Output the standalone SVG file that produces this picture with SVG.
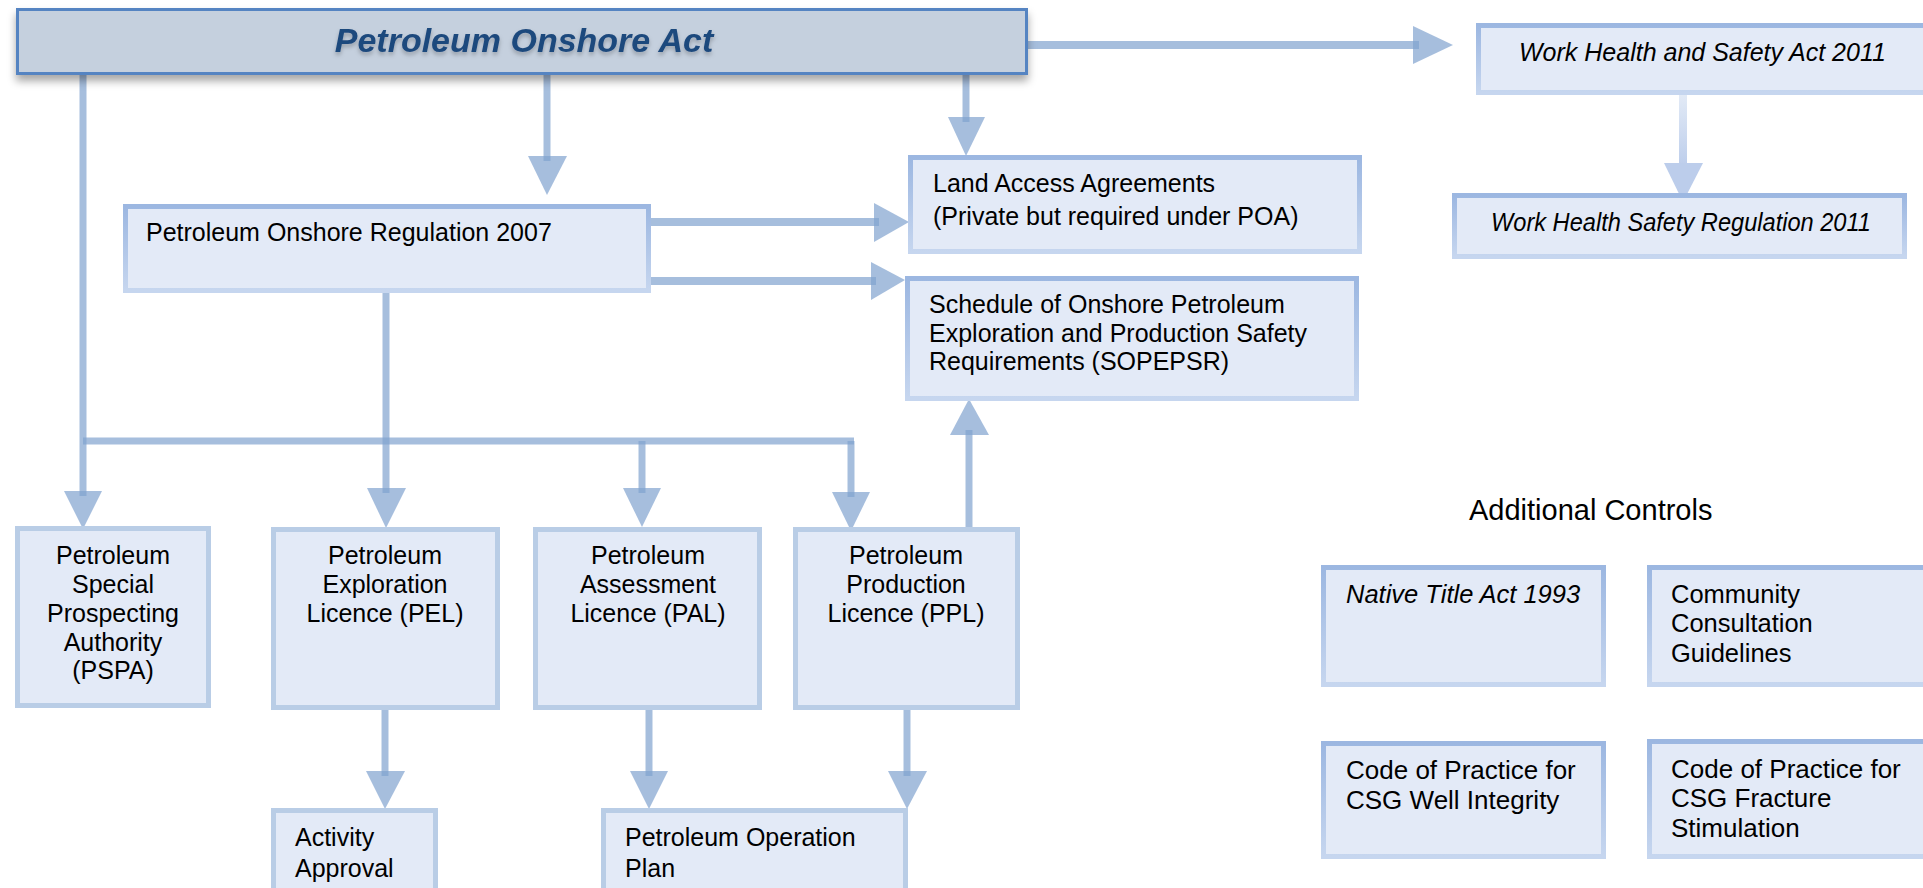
<svg xmlns="http://www.w3.org/2000/svg" width="1923" height="888" viewBox="0 0 1923 888">
<defs>
<linearGradient id="bgrad" x1="0" y1="0" x2="0" y2="1">
<stop offset="0" stop-color="#9cb7e1"/>
<stop offset="1" stop-color="#c6d6ef"/>
</linearGradient>
<linearGradient id="whsline" x1="0" y1="0" x2="0" y2="1">
<stop offset="0" stop-color="#e2eaf6"/>
<stop offset="1" stop-color="#bccdeb"/>
</linearGradient>
<filter id="shadow" x="-5%" y="-20%" width="110%" height="160%">
<feDropShadow dx="0" dy="6" stdDeviation="4" flood-color="#000" flood-opacity="0.35"/>
</filter>
<filter id="tshadow" x="-5%" y="-30%" width="110%" height="180%">
<feDropShadow dx="0" dy="3" stdDeviation="2" flood-color="#000" flood-opacity="0.25"/>
</filter>
</defs>
<style>
text{font-family:"Liberation Sans",Arial,Helvetica,sans-serif;fill:#000;font-size:25px}
.it{font-style:italic}
.c{text-anchor:middle}
.box{fill:#e3eaf7;stroke:url(#bgrad);stroke-width:5}
.lic{fill:#e3eaf7;stroke:#b9cde6;stroke-width:5}
.ln{stroke:#80a2ce;stroke-opacity:0.7;stroke-width:7;fill:none}
.lnh{stroke:#80a2ce;stroke-opacity:0.7;stroke-width:8;fill:none}
.ah{fill:#80a2ce;fill-opacity:0.7}
</style>
<rect width="1923" height="888" fill="#fff"/>

<g id="connectors">
<line class="lnh" x1="1028" y1="45" x2="1419" y2="45"/>
<polygon class="ah" points="1413,26 1453,45 1413,64"/>
<line class="ln" x1="547" y1="75" x2="547" y2="161"/>
<polygon class="ah" points="528,156 567,156 547,195"/>
<line class="ln" x1="966" y1="75" x2="966" y2="122"/>
<polygon class="ah" points="948,117 985,117 966,156"/>
<line class="ln" x1="83" y1="75" x2="83" y2="496"/>
<polygon class="ah" points="64,491 102,491 83,529"/>
<line class="lnh" x1="651" y1="222" x2="879" y2="222"/>
<polygon class="ah" points="874,203 909,222 874,242"/>
<line class="lnh" x1="647" y1="281" x2="876" y2="281"/>
<polygon class="ah" points="871,262 905,280 871,300"/>
<line class="ln" x1="386" y1="293" x2="386" y2="493"/>
<polygon class="ah" points="367,488 406,488 386,528"/>
<line class="ln" x1="83" y1="441" x2="854" y2="441"/>
<line class="ln" x1="642" y1="441" x2="642" y2="493"/>
<polygon class="ah" points="623,488 661,488 642,527"/>
<line class="ln" x1="851" y1="441" x2="851" y2="497"/>
<polygon class="ah" points="832,492 870,492 851,531"/>
<line class="ln" x1="969" y1="530" x2="969" y2="430"/>
<polygon class="ah" points="950,435 989,435 969,399"/>
<line class="ln" x1="385" y1="710" x2="385" y2="776"/>
<polygon class="ah" points="366,771 405,771 385,809"/>
<line class="ln" x1="649" y1="710" x2="649" y2="776"/>
<polygon class="ah" points="630,771 668,771 649,809"/>
<line class="ln" x1="907" y1="710" x2="907" y2="776"/>
<polygon class="ah" points="888,771 927,771 907,809"/>
<rect x="1679" y="95" width="8" height="72" fill="url(#whsline)"/>
<polygon points="1664,163 1703,163 1683,202" fill="#bccdeb"/>
</g>

<g id="act">
<rect x="17.5" y="9.5" width="1009" height="64" fill="#c5d0de" stroke="#5584c2" stroke-width="3" filter="url(#shadow)"/>
<text x="524" y="52" class="c" style="font-size:34px;font-weight:bold;font-style:italic;fill:#1f497d" filter="url(#tshadow)">Petroleum Onshore Act</text>
</g>

<g id="regulation">
<rect class="box" x="125.5" y="206.5" width="523" height="84"/>
<text x="146" y="241">Petroleum Onshore Regulation 2007</text>
</g>

<g id="land-access">
<rect class="box" x="910.5" y="157.5" width="449" height="94"/>
<text x="933" y="192">Land Access Agreements</text>
<text x="933" y="225">(Private but required under POA)</text>
</g>

<g id="sopepsr">
<rect class="box" x="907.5" y="278.5" width="449" height="120"/>
<text x="929" y="313">Schedule of Onshore Petroleum</text>
<text x="929" y="342">Exploration and Production Safety</text>
<text x="929" y="370">Requirements (SOPEPSR)</text>
</g>

<g id="whs-act">
<rect class="box" x="1478.5" y="25.5" width="460" height="67"/>
<text x="1519" y="61" class="it">Work Health and Safety Act 2011</text>
</g>

<g id="whs-reg">
<rect class="box" x="1454.5" y="195.5" width="450" height="61"/>
<text x="1491" y="231" class="it" textLength="380" lengthAdjust="spacingAndGlyphs">Work Health Safety Regulation 2011</text>
</g>

<g id="pspa">
<rect class="lic" x="17.5" y="528.5" width="191" height="177"/>
<text x="113" y="564" class="c">Petroleum</text>
<text x="113" y="593" class="c">Special</text>
<text x="113" y="622" class="c">Prospecting</text>
<text x="113" y="651" class="c">Authority</text>
<text x="113" y="679" class="c">(PSPA)</text>
</g>

<g id="pel">
<rect class="lic" x="273.5" y="529.5" width="224" height="178"/>
<text x="385" y="564" class="c">Petroleum</text>
<text x="385" y="593" class="c">Exploration</text>
<text x="385" y="622" class="c">Licence (PEL)</text>
</g>

<g id="pal">
<rect class="lic" x="535.5" y="529.5" width="224" height="178"/>
<text x="648" y="564" class="c">Petroleum</text>
<text x="648" y="593" class="c">Assessment</text>
<text x="648" y="622" class="c">Licence (PAL)</text>
</g>

<g id="ppl">
<rect class="lic" x="795.5" y="529.5" width="222" height="178"/>
<text x="906" y="564" class="c">Petroleum</text>
<text x="906" y="593" class="c">Production</text>
<text x="906" y="622" class="c">Licence (PPL)</text>
</g>

<g id="activity-approval">
<rect class="lic" x="273.5" y="810.5" width="162" height="100"/>
<text x="295" y="846">Activity</text>
<text x="295" y="877">Approval</text>
</g>

<g id="operation-plan">
<rect class="lic" x="603.5" y="810.5" width="302" height="100"/>
<text x="625" y="846">Petroleum Operation</text>
<text x="625" y="877">Plan</text>
</g>

<g id="additional-controls">
<text x="1469" y="520" style="font-size:29px">Additional Controls</text>
</g>

<g id="native-title">
<rect class="box" x="1323.5" y="567.5" width="280" height="117"/>
<text x="1346" y="603" class="it" style="font-size:25.5px">Native Title Act 1993</text>
</g>

<g id="community">
<rect class="box" x="1649.5" y="567.5" width="290" height="117"/>
<text x="1671" y="603" style="font-size:25.5px">Community</text>
<text x="1671" y="632" style="font-size:25.5px">Consultation</text>
<text x="1671" y="662" style="font-size:25.5px">Guidelines</text>
</g>

<g id="well-integrity">
<rect class="box" x="1323.5" y="743.5" width="280" height="113"/>
<text x="1346" y="779" style="font-size:26px">Code of Practice for</text>
<text x="1346" y="809" style="font-size:26px">CSG Well Integrity</text>
</g>

<g id="fracture">
<rect class="box" x="1649.5" y="741.5" width="290" height="115"/>
<text x="1671" y="778" style="font-size:26px">Code of Practice for</text>
<text x="1671" y="807" style="font-size:26px">CSG Fracture</text>
<text x="1671" y="837" style="font-size:26px">Stimulation</text>
</g>
</svg>
